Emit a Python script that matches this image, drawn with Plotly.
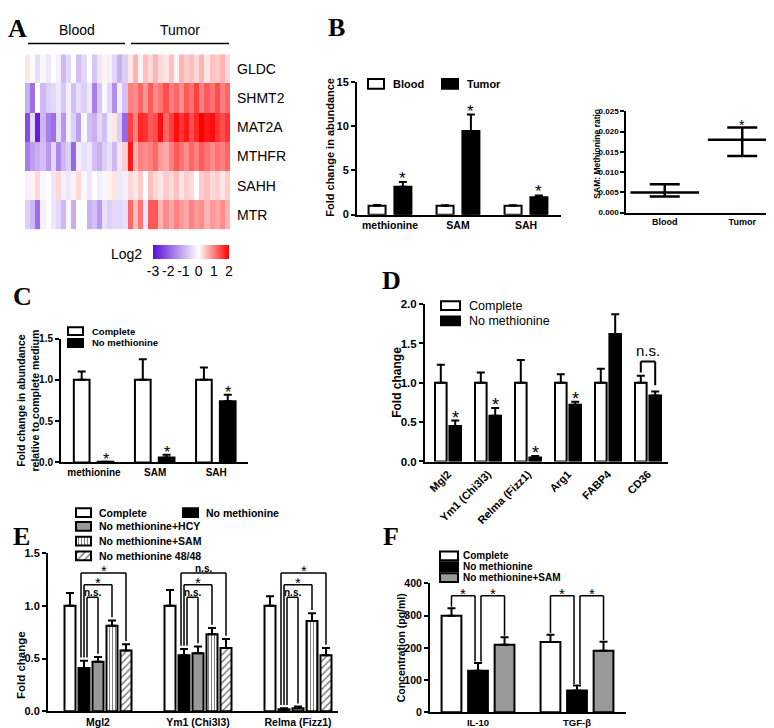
import plotly.graph_objects as go

W, H = 774, 728


def px(x):
    return x / W


def py(y):
    return 1 - y / H


# ---------------- data ----------------
genes = ["GLDC", "SHMT2", "MAT2A", "MTHFR", "SAHH", "MTR"]
blood_expr = [
    [0.2, 0, -0.4, -0.1, -0.3, 0, -0.2, -0.9, -0.5, 0, -0.8, -0.5, 0, -0.7, -0.3, 0.1, -0.2, -0.5, -1.0, -0.6],
    [-1.0, -1.8, 0, -0.9, -0.6, -0.5, -0.3, -0.7, -0.2, -0.8, -0.4, -0.6, -0.3, -1.6, -0.7, -0.1, -0.5, -1.4, -0.2, -0.8],
    [-2.2, -0.5, -2.8, -0.9, -1.6, -1.8, -0.4, -1.3, -0.2, -0.6, -1.2, -0.1, -0.8, -1.0, -0.5, -0.8, -0.2, 0.2, -0.6, -1.9],
    [-1.6, -1.2, -1.0, -0.8, -1.3, -0.5, -1.5, -0.9, -0.6, -1.9, -0.2, -0.4, -0.3, -0.8, -1.0, -0.6, -0.4, -0.9, -0.3, 0.4],
    [-0.2, 0.1, 0.3, -0.1, 0, -0.3, 0.3, -0.2, -0.3, 0.1, 0.3, -0.1, -0.3, 0, -0.2, -0.1, 0.1, 0.2, -0.3, -0.2],
    [-0.6, -0.9, -1.8, -0.2, 0, -0.3, -0.5, -0.9, -0.1, -1.0, 0, 0, -1.0, -0.8, -1.3, -0.4, -0.6, -0.5, -0.5, -0.4],
]
tumor_expr = [
    [0.2, 0.6, 0.1, 0.5, 0.3, 0.6, 0.3, 0.2, 0.5, 0.1, 0.6, 0.4, 0.5, 0.3, 0.6, 0.2, 0.5, 0.4, 0.6, 0.3],
    [1.0, 0.9, 1.2, 0.8, 1.3, 0.9, 1.1, 1.4, 1.0, 1.2, 0.9, 1.3, 1.1, 1.5, 1.0, 1.3, 1.1, 1.4, 1.0, 1.2],
    [1.5, 1.0, 1.7, 1.6, 1.3, 1.4, 1.9, 1.2, 1.5, 1.9, 1.6, 1.8, 1.4, 1.7, 2.0, 1.8, 1.9, 1.6, 1.4, 1.6],
    [1.8, 0.6, 1.0, 0.9, 1.0, 1.2, 0.8, 0.7, 1.0, 1.3, 1.1, 0.9, 1.2, 1.0, 1.3, 1.1, 0.9, 1.1, 1.0, 1.2],
    [0.3, 0.2, 0.4, 0.0, 0.5, 0.3, 0.2, 0.4, 0.3, 0.5, 0.2, 0.4, 0.3, 0.0, 0.4, 0.5, 0.3, 0.4, 0.2, 0.4],
    [1.2, 0.5, 1.1, -0.3, 1.3, 1.3, 0.6, 0.9, 0.7, 1.0, 0.8, 0.7, 1.0, 0.8, 0.9, 0.6, 0.8, 0.7, 0.9, 0.6],
]
group_names = ["Blood", "Tumor"]
log2_ticks = [-3, -2, -1, 0, 1, 2]

b_metabolites = ["methionine", "SAM", "SAH"]
b_series = ["Blood", "Tumor"]
b_blood = [1.0, 1.0, 1.0]
b_blood_err = [0.08, 0.07, 0.07]
b_tumor = [3.15, 9.45, 1.95]
b_tumor_err = [0.55, 1.85, 0.22]

ratio_groups = ["Blood", "Tumor"]
ratio_mean = [0.005, 0.018]
ratio_low = [0.004, 0.014]
ratio_high = [0.007, 0.021]

c_metabolites = ["methionine", "SAM", "SAH"]
c_series = ["Complete", "No methionine"]
c_complete = [1.0, 1.0, 1.0]
c_complete_err = [0.10, 0.25, 0.15]
c_nomet = [0.01, 0.06, 0.74]
c_nomet_err = [0.0, 0.035, 0.08]

d_genes = ["Mgl2", "Ym1 (Chi3l3)", "Relma (Fizz1)", "Arg1", "FABP4", "CD36"]
d_series = ["Complete", "No methionine"]
d_complete = [1.0, 1.0, 1.0, 1.0, 1.0, 1.0]
d_complete_err = [0.23, 0.13, 0.29, 0.11, 0.18, 0.09]
d_nomet = [0.45, 0.58, 0.05, 0.72, 1.62, 0.84]
d_nomet_err = [0.07, 0.10, 0.02, 0.04, 0.25, 0.05]
d_sig = ["*", "*", "*", "*", "", ""]

e_genes = ["Mgl2", "Ym1 (Chi3l3)", "Relma (Fizz1)"]
e_series = ["Complete", "No methionine", "No methionine+HCY", "No methionine+SAM", "No methionine 48/48"]
e_values = [
    [1.0, 1.0, 1.0],
    [0.41, 0.53, 0.02],
    [0.47, 0.55, 0.03],
    [0.81, 0.73, 0.855],
    [0.575, 0.60, 0.53],
]
e_errors = [
    [0.12, 0.15, 0.09],
    [0.07, 0.06, 0.01],
    [0.045, 0.065, 0.015],
    [0.05, 0.06, 0.075],
    [0.06, 0.085, 0.07],
]
e_sig = [["n.s.", "*", "*"], ["n.s.", "*", "n.s."], ["n.s.", "*", "*"]]

f_cytokines = ["IL-10", "TGF-β"]
f_series = ["Complete", "No methionine", "No methionine+SAM"]
f_values = [[300, 218], [129, 68], [210, 191]]
f_errors = [[23, 23], [24, 15], [23, 28]]
f_sig = [["*", "*"], ["*", "*"]]

# ---------------- figure ----------------
fig = go.Figure()
FONT = "Liberation Sans, Arial"
annots = []
shapes = []


def note(x, y, text, size, xref="paper", yref="paper", xa="center", ya="middle", bold=True, angle=0,
         family=FONT, yshift=0, xshift=0):
    annots.append(dict(x=x, y=y, text=text, xref=xref, yref=yref, xanchor=xa, yanchor=ya,
                       showarrow=False, textangle=angle, yshift=yshift, xshift=xshift, borderpad=0,
                       font=dict(size=size, family=family, color="black", weight="bold" if bold else "normal")))


def bar(cats, vals, errs, ax, offset, width, color, pattern=None):
    fig.add_trace(go.Bar(
        x=cats, y=vals, offset=offset, width=width,
        marker=dict(color=color, line=dict(color="black", width=2), pattern=pattern or {}),
        error_y=dict(type="data", array=errs, arrayminus=[0] * len(errs), symmetric=False,
                     color="black", thickness=2, width=4),
        xaxis="x" + ax, yaxis="y" + ax, showlegend=False, hoverinfo="skip"))


def key(cx, cy, w, h, color, label, size, tx_gap=8, bold=True, pattern=None):
    fig.add_trace(go.Bar(x=[cx], y=[h], base=[cy - h / 2], width=[w],
                         marker=dict(color=color, line=dict(color="black", width=2), pattern=pattern or {}),
                         xaxis="x8", yaxis="y8", showlegend=False, hoverinfo="skip"))
    note(px(cx + w / 2 + tx_gap), py(cy), label, size, xa="left", bold=bold)


def bracket(ax, xl, xr, ytop, yl, yr, lw=1.5):
    for x0, y0, x1, y1 in [(xl, yl, xl, ytop), (xl, ytop, xr, ytop), (xr, ytop, xr, yr)]:
        shapes.append(dict(type="line", xref="x" + ax, yref="y" + ax, x0=x0, y0=y0, x1=x1, y1=y1,
                           line=dict(color="black", width=lw)))


# ---- A: heatmap
z = [b + t for b, t in zip(blood_expr, tumor_expr)]
fig.add_trace(go.Heatmap(
    z=z, y=genes, zmin=-3, zmax=2,
    colorscale=[[0, "#5a0fd8"], [0.6, "#ffffff"], [1, "#ff0000"]],
    colorbar=dict(orientation="h", x=px(183), xanchor="center", y=py(235), yanchor="top",
                  len=76, lenmode="pixels", thickness=14, tickvals=log2_ticks,
                  ticktext=[str(t) for t in log2_ticks], tickangle=0,
                  ticks="", outlinewidth=0, xpad=0, ypad=0,
                  tickfont=dict(size=14, family=FONT, color="black")),
    xaxis="x", yaxis="y", hoverinfo="skip"))
note(px(119), py(244), "Log2", 14, bold=False)
for name, (x0, x1) in zip(group_names, [(20, 117), (123, 221)]):
    note(px((x0 + x1) / 2), py(16), name, 14, bold=False)
    shapes.append(dict(type="line", xref="paper", yref="paper", x0=px(x0), x1=px(x1), y0=py(30), y1=py(30),
                       line=dict(color="black", width=1.5)))

# ---- B
bw, boff = 0.25, [-0.315, 0.065]
bar(b_metabolites, b_blood, b_blood_err, "2", boff[0], bw, "white")
bar(b_metabolites, b_tumor, b_tumor_err, "2", boff[1], bw, "black")
for i in range(len(b_metabolites)):
    note(i + boff[1] + bw / 2, b_tumor[i] + b_tumor_err[i], "*", 17, xref="x2", yref="y2", ya="bottom",
         bold=False, yshift=-7)
key(368, 71, 16, 10, "white", b_series[0], 11)
key(442, 71, 16, 10, "black", b_series[1], 11)
note(px(322), py(136), "Fold change in abundance", 11, angle=-90)

# ---- B inset
fig.add_trace(go.Scatter(
    x=ratio_groups, y=ratio_mean, mode="markers",
    marker=dict(symbol="line-ew", size=49, line=dict(color="black", width=2.5)),
    error_y=dict(type="data", symmetric=False,
                 array=[h - m for h, m in zip(ratio_high, ratio_mean)],
                 arrayminus=[m - l for m, l in zip(ratio_mean, ratio_low)],
                 color="black", thickness=2.5, width=15),
    xaxis="x3", yaxis="y3", showlegend=False, hoverinfo="skip"))
note(1, ratio_high[1], "*", 14, xref="x3", yref="y3", ya="bottom", bold=False, yshift=-6)
note(px(589), py(142), "SAM: Methionine ratio", 8.5, angle=-90)

# ---- C
cw, coff = 0.257, [-0.33, 0.06]
bar(c_metabolites, c_complete, c_complete_err, "4", coff[0], cw, "white")
bar(c_metabolites, c_nomet, c_nomet_err, "4", coff[1], cw, "black")
for i in range(len(c_metabolites)):
    note(i + coff[1] + cw / 2, c_nomet[i] + c_nomet_err[i], "*", 16, xref="x4", yref="y4", ya="bottom",
         bold=False, yshift=-7)
key(67.5, 322.5, 15, 8, "white", c_series[0], 9.5)
key(67.5, 334.5, 15, 8, "black", c_series[1], 9.5)
note(px(20), py(393), "Fold change in abundance<br>relative to complete medium", 10.5, angle=-90)

# ---- D
dw, doff = 0.29, [-0.325, 0.035]
bar(d_genes, d_complete, d_complete_err, "5", doff[0], dw, "white")
bar(d_genes, d_nomet, d_nomet_err, "5", doff[1], dw, "black")
for i, s in enumerate(d_sig):
    if s:
        note(i + doff[1] + dw / 2, d_nomet[i] + d_nomet_err[i], s, 18, xref="x5", yref="y5", ya="bottom",
             bold=False, yshift=-8)
i = len(d_genes) - 1
xl, xr = i + doff[0] + dw / 2, i + doff[1] + dw / 2
bracket("5", xl, xr, 1.27, d_complete[i] + d_complete_err[i] + 0.04, d_nomet[i] + d_nomet_err[i] + 0.08, lw=2)
note((xl + xr) / 2, 1.29, "n.s.", 15, xref="x5", yref="y5", ya="bottom", bold=False)
key(442.5, 296.5, 19, 9, "white", d_series[0], 12.5, bold=False)
key(442.5, 312, 19, 9, "black", d_series[1], 12.5, bold=False)
note(px(389), py(375), "Fold change", 12, angle=-90)

# ---- E
ew, estep = 0.11, 0.14
e_fill = ["white", "black", "#999999", "white", "white"]
e_pat = [None, None, None,
         dict(shape="|", fgcolor="black", bgcolor="white", size=3, solidity=0.35),
         dict(shape="/", fgcolor="black", bgcolor="white", size=5, solidity=0.3)]
e_center = [(k - 2) * estep for k in range(len(e_series))]
for k in range(len(e_series)):
    bar(e_genes, e_values[k], e_errors[k], "6", e_center[k] - ew / 2, ew, e_fill[k], e_pat[k])
levels = [1.08, 1.2, 1.31]
for g in range(len(e_genes)):
    ltop = e_values[1][g] + e_errors[1][g] + 0.03
    for j, (lev, s) in enumerate(zip(levels, e_sig[g])):
        t = j + 2
        xl = g + e_center[1] + 0.03 * (1 - j)
        xr = g + e_center[t]
        bracket("6", xl, xr, lev, ltop, e_values[t][g] + e_errors[t][g] + 0.03)
        if s == "*":
            note((xl + xr) / 2, lev, s, 15, xref="x6", yref="y6", ya="bottom", bold=False, yshift=-7)
        else:
            note((xl + xr) / 2, lev, s, 10, xref="x6", yref="y6", ya="bottom", yshift=-2)
e_keys = [(75.5, 507), (182.5, 507), (75.5, 521), (75.5, 536), (75.5, 551)]
for k, (cx, cy) in enumerate(e_keys):
    key(cx, cy, 15, 9, e_fill[k], e_series[k], 10.5, tx_gap=7, pattern=e_pat[k])
note(px(13), py(662), "Fold change", 11.5, angle=-90)

# ---- F
fw, fstep = 0.2, 0.268
f_fill = ["white", "black", "#999999"]
f_center = [(k - 1) * fstep for k in range(len(f_series))]
for k in range(len(f_series)):
    bar(f_cytokines, f_values[k], f_errors[k], "7", f_center[k] - fw / 2, fw, f_fill[k])
for g in range(len(f_cytokines)):
    for j in range(2):
        a, b = j, j + 1
        xl = g + f_center[a] + (0.03 if a == 1 else 0)
        xr = g + f_center[b] - (0.03 if b == 1 else 0)
        bracket("7", xl, xr, 362, f_values[a][g] + f_errors[a][g] + 5, f_values[b][g] + f_errors[b][g] + 5)
        note((xl + xr) / 2, 362, f_sig[g][j], 15, xref="x7", yref="y7", ya="bottom", bold=False, yshift=-7)
for k, cy in enumerate([551, 562, 573]):
    key(441, cy, 18, 9, f_fill[k], f_series[k], 10, tx_gap=4)
note(px(393), py(645), "Concentration (pg/ml)", 10.5, angle=-90)

# ---- panel letters
for letter, x, y in [("A", 2, 5), ("B", 322, 4), ("C", 7, 278), ("D", 376, 261), ("E", 7, 522), ("F", 377, 522)]:
    note(px(x), py(y), letter, 26, xa="left", ya="top", family="Liberation Serif", xshift=-3, yshift=6)


def xax(dom, rng, anchor, size, angle=0):
    return dict(domain=[px(dom[0]), px(dom[1])], range=rng, anchor=anchor, showline=True, linewidth=2,
                linecolor="black", ticks="", ticklen=0, showgrid=False, zeroline=False, fixedrange=True,
                tickangle=angle, tickfont=dict(size=size, family=FONT, color="black", weight="bold"))


def yax(dom, rng, anchor, dtick, size, fmt, lw=2):
    return dict(domain=[py(dom[1]), py(dom[0])], range=rng, anchor=anchor, dtick=dtick, tickformat=fmt,
                showline=True, linewidth=lw, linecolor="black", ticks="outside", ticklen=4, tickwidth=lw,
                tickcolor="black", showgrid=False, zeroline=False, fixedrange=True,
                tickfont=dict(size=size, family=FONT, color="black", weight="bold"))


fig.update_layout(
    width=W, height=H, margin=dict(l=0, r=0, t=0, b=0),
    paper_bgcolor="white", plot_bgcolor="rgba(0,0,0,0)",
    barmode="overlay", showlegend=False,
    font=dict(family=FONT, color="black"),
    xaxis=dict(domain=[px(17), px(222)], visible=False, fixedrange=True),
    yaxis=dict(domain=[py(219), py(41)], autorange="reversed", side="right", ticks="", showline=False,
               showgrid=False, zeroline=False, fixedrange=True, ticklabelstandoff=6,
               tickfont=dict(size=14, family=FONT, color="black")),
    xaxis2=xax((349, 553), [-0.485, 2.515], "y2", 10.5),
    yaxis2=yax((69, 204), [0, 15], "x2", 5, 11, "d"),
    xaxis3=xax((618, 773), [-0.5, 1.5], "y3", 9),
    yaxis3=yax((99, 202), [0, 0.025], "x3", 0.005, 8, ".3f", lw=1.5),
    xaxis4=xax((53, 240), [-0.54, 2.52], "y4", 10),
    yaxis4=yax((330, 456), [0, 1.5], "x4", 0.5, 10, ".1f"),
    xaxis5=xax((417, 660), [-0.575, 5.5], "y5", 11, angle=-45),
    yaxis5=yax((295, 455), [0, 2], "x5", 0.5, 11.5, ".1f"),
    xaxis6=xax((40, 330), [-0.5, 2.4], "y6", 10.5),
    yaxis6=yax((548, 709), [0, 1.5], "x6", 0.5, 11, ".1f"),
    xaxis7=xax((422, 618), [-0.485, 1.495], "y7", 9.5),
    yaxis7=yax((579, 710), [0, 400], "x7", 100, 10.5, "d"),
    xaxis8=dict(domain=[0, 1], range=[0, W], visible=False, fixedrange=True),
    yaxis8=dict(domain=[0, 1], range=[H, 0], visible=False, fixedrange=True, anchor="x8"),
    annotations=annots, shapes=shapes,
)

fig.write_html("out.html")
